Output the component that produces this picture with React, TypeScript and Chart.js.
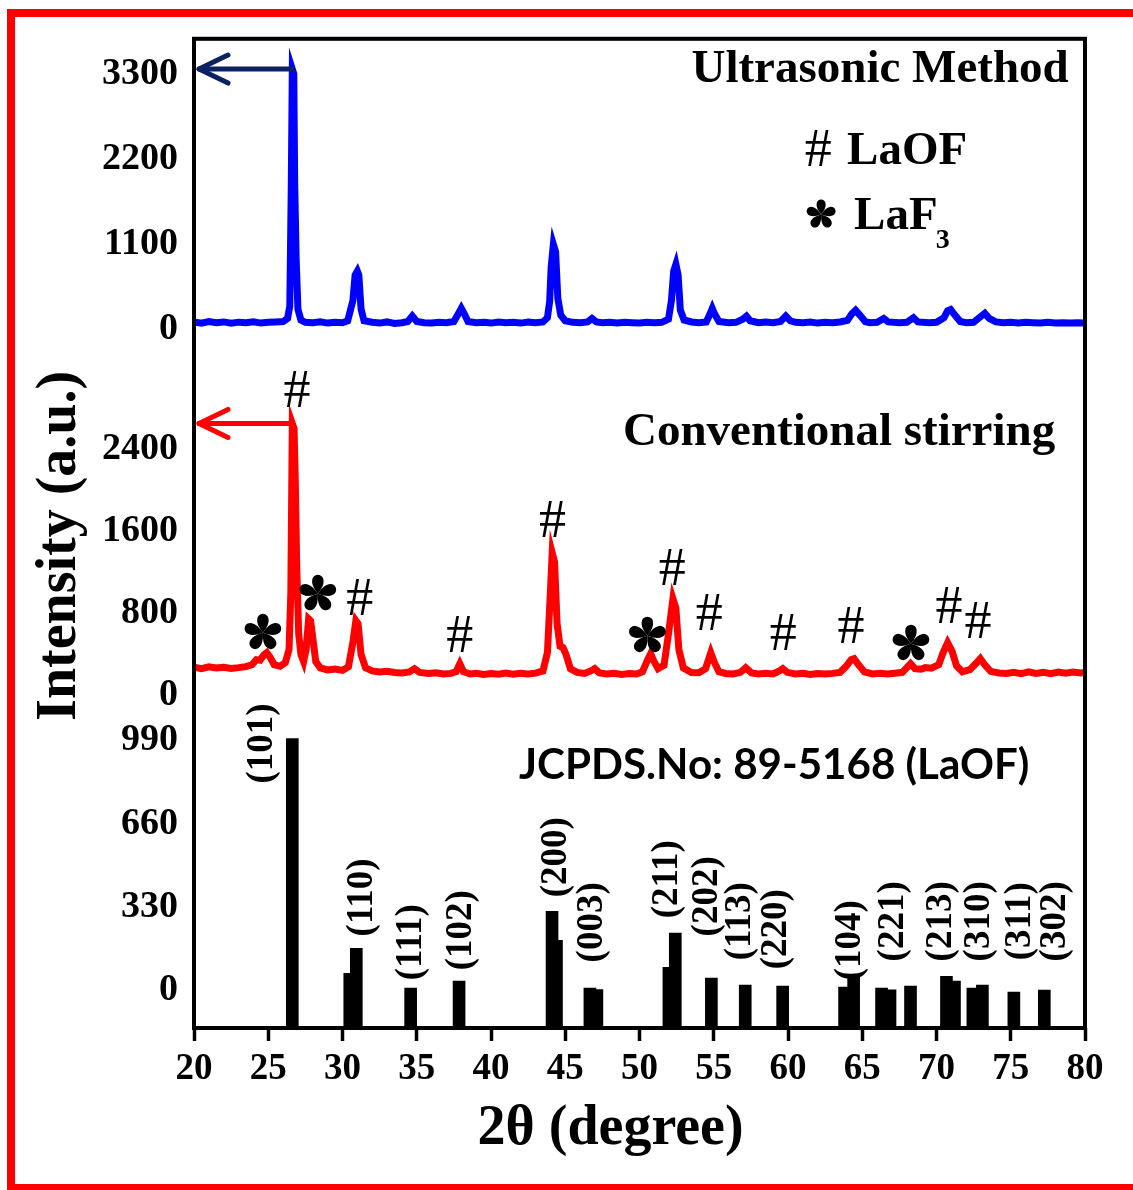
import React, { useEffect, useRef } from "react";
import { Chart, registerables } from "chart.js";

Chart.register(...registerables);

const SERIF = '"Liberation Serif", "Times New Roman", serif';
const SANS = 'Lato, "Open Sans", "Liberation Sans", sans-serif';

// ---------- axes ----------
const xMin = 20;
const xMax = 80;
const xStep = 5;
const xTitle = "2θ (degree)";
const yTitle = "Intensity (a.u.)";

const ultrasonicTicks = [0, 1100, 2200, 3300];
const stirringTicks = [0, 800, 1600, 2400];
const referenceTicks = [0, 330, 660, 990];

const ultrasonicRange = [-567, 3751];
const stirringRange = [-224, 3139];
const referenceRange = [-150, 1077];
const panelWeights = [335, 346, 310];

// ---------- series ----------
const ultrasonicPattern: [number, number][] = [
  [20.0, 95], [20.5, 80], [21.0, 100], [21.5, 85], [22.0, 95], [22.5, 78], [23.0, 92], [23.5, 84], [24.0, 96], [24.5, 80],
  [25.0, 90], [25.5, 95], [26.0, 100], [26.3, 140], [26.45, 300], [26.55, 1850], [26.62, 3360], [26.72, 3300], [26.78, 1900],
  [26.88, 900], [27.0, 260], [27.2, 120], [27.5, 90], [28.0, 85], [28.5, 96], [29.0, 80], [29.5, 92], [30.0, 85], [30.35, 110],
  [30.55, 260], [30.7, 370], [30.85, 700], [31.0, 750], [31.1, 700], [31.25, 260], [31.45, 110], [32.0, 90], [32.5, 80],
  [33.0, 95], [33.5, 75], [34.0, 85], [34.4, 100], [34.7, 170], [35.0, 100], [35.5, 85], [36.0, 80], [36.5, 92], [37.0, 85],
  [37.5, 100], [37.8, 200], [38.0, 270], [38.2, 200], [38.45, 100], [39.0, 85], [39.5, 92], [40.0, 80], [40.5, 95], [41.0, 85],
  [41.5, 90], [42.0, 80], [42.5, 95], [43.0, 85], [43.5, 95], [43.8, 150], [43.95, 360], [44.05, 800], [44.2, 1095],
  [44.35, 1000], [44.5, 400], [44.7, 180], [45.0, 110], [45.5, 90], [46.0, 85], [46.5, 95], [46.8, 140], [47.1, 95], [47.5, 85],
  [48.0, 90], [48.5, 80], [49.0, 90], [49.5, 85], [50.0, 80], [50.5, 90], [51.0, 85], [51.5, 90], [51.95, 130], [52.15, 370],
  [52.3, 750], [52.45, 840], [52.6, 700], [52.75, 250], [53.0, 120], [53.5, 95], [54.0, 85], [54.5, 95], [54.75, 200],
  [54.9, 270], [55.05, 200], [55.35, 100], [56.0, 85], [56.5, 90], [56.95, 130], [57.2, 170], [57.45, 110], [58.0, 85],
  [58.5, 95], [59.0, 85], [59.5, 100], [59.85, 170], [60.15, 110], [60.5, 90], [61.0, 85], [61.5, 95], [62.0, 80], [62.5, 90],
  [63.0, 85], [63.5, 95], [64.0, 115], [64.3, 200], [64.55, 245], [64.85, 180], [65.2, 100], [65.5, 85], [66.0, 90],
  [66.45, 140], [66.75, 95], [67.5, 85], [68.0, 90], [68.45, 150], [68.75, 95], [69.5, 85], [70.0, 90], [70.5, 150],
  [70.75, 240], [70.95, 255], [71.25, 180], [71.6, 100], [72.0, 85], [72.5, 90], [72.95, 160], [73.25, 205], [73.55, 140],
  [74.0, 95], [74.5, 85], [75.0, 90], [75.5, 80], [76.0, 90], [76.5, 85], [77.0, 80], [77.5, 90], [78.0, 80], [78.5, 85],
  [79.0, 80], [79.5, 85], [80.0, 80],
];

const stirringPattern: [number, number][] = [
  [20.0, 275], [20.5, 262], [21.0, 280], [21.5, 268], [22.0, 276], [22.5, 264], [23.0, 272], [23.5, 282], [23.9, 300],
  [24.2, 350], [24.45, 345], [24.7, 395], [24.9, 418], [25.1, 380], [25.4, 300], [25.8, 285], [26.15, 320], [26.4, 450],
  [26.52, 1000], [26.58, 2000], [26.62, 2650], [26.74, 2600], [26.82, 2100], [26.92, 1250], [27.05, 600], [27.2, 400],
  [27.38, 330], [27.55, 450], [27.72, 748], [27.85, 730], [28.0, 560], [28.2, 330], [28.5, 270], [29.0, 250], [29.5, 258],
  [30.0, 245], [30.4, 280], [30.7, 520], [30.9, 730], [31.05, 700], [31.25, 400], [31.55, 270], [32.0, 240], [32.5, 230],
  [33.0, 236], [33.5, 224], [34.0, 220], [34.5, 230], [34.85, 262], [35.2, 225], [35.8, 215], [36.3, 222], [36.8, 210],
  [37.3, 216], [37.65, 232], [37.9, 310], [38.15, 232], [38.6, 210], [39.0, 216], [39.5, 205], [40.0, 214], [40.5, 208],
  [41.0, 220], [41.5, 208], [42.0, 216], [42.5, 210], [43.0, 218], [43.5, 240], [43.8, 420], [43.98, 950], [44.12, 1390],
  [44.28, 1300], [44.45, 700], [44.65, 480], [44.85, 467], [45.05, 400], [45.35, 260], [45.8, 225], [46.3, 215], [46.75, 242],
  [46.98, 262], [47.3, 220], [47.8, 210], [48.3, 216], [48.8, 205], [49.3, 215], [49.8, 210], [50.2, 232], [50.55, 350],
  [50.75, 408], [50.95, 340], [51.25, 262], [51.65, 295], [51.95, 600], [52.25, 943], [52.45, 850], [52.65, 450], [52.95, 270],
  [53.5, 225], [54.0, 222], [54.45, 262], [54.8, 418], [55.05, 320], [55.35, 232], [55.8, 215], [56.3, 210], [56.8, 226],
  [57.15, 272], [57.55, 220], [58.0, 210], [58.5, 216], [59.0, 210], [59.45, 242], [59.65, 262], [59.95, 226], [60.5, 210],
  [61.0, 216], [61.5, 205], [62.0, 215], [62.5, 210], [63.0, 216], [63.5, 226], [63.9, 282], [64.25, 350], [64.45, 360],
  [64.75, 300], [65.15, 230], [65.7, 210], [66.2, 216], [66.7, 210], [67.2, 218], [67.7, 226], [68.0, 272], [68.25, 310],
  [68.55, 262], [68.95, 256], [69.25, 272], [69.65, 266], [70.15, 300], [70.45, 420], [70.75, 515], [71.05, 430], [71.35, 290],
  [71.75, 232], [72.25, 252], [72.65, 312], [72.95, 360], [73.25, 300], [73.65, 236], [74.2, 220], [74.7, 215], [75.2, 226],
  [75.7, 214], [76.2, 230], [76.7, 215], [77.2, 226], [77.7, 214], [78.2, 228], [78.7, 218], [79.2, 228], [79.7, 220],
  [80.0, 224],
];

// JCPDS 89-5168 reference lines
const refAngles = [26.62, 30.49, 30.93, 34.59, 37.85, 44.11, 44.41, 46.66, 47.13, 51.98, 52.41, 54.84, 57.12, 59.64,
  63.81, 64.42, 66.3, 66.87, 68.25, 70.67, 71.21, 72.45, 73.09, 75.21, 77.26];
const refIntensities = [998, 67, 166, 8, 36, 313, 198, 8, 2, 91, 226, 48, 20, 16,
  12, 52, 8, 1, 16, 55, 36, 8, 20, -8, 0];

// Miller-index labels (anchor: angle, height in reference units)
const millerLabels = ["(101)", "(110)", "(111)", "(102)", "(200)", "(003)", "(211)", "(202)", "(113)", "(220)",
  "(104)", "(221)", "(213)", "(310)", "(311)", "(302)"];
const millerAngles = [24.64, 31.37, 34.66, 38.02, 44.41, 46.83, 51.88, 54.57, 56.79, 59.21, 64.19, 67.08, 70.3, 72.86,
  75.68, 78.04];
const millerHeights = [978, 368, 190, 238, 527, 269, 440, 372, 273, 242, 198, 273, 273, 273, 273, 273];

// phase markers on the conventional-stirring pattern
const laofMarkAngles = [26.93, 31.16, 37.89, 44.14, 52.21, 54.7, 59.68, 64.25, 70.84, 72.79];
const laofMarkHeights = [2945, 923, 564, 1681, 1215, 777, 583, 651, 845, 700];
const laf3MarkAngles = [24.64, 28.34, 50.53, 68.28];
const laf3MarkHeights = [612, 991, 583, 505];

function drawFlower(ctx: CanvasRenderingContext2D, cx: number, cy: number, r: number) {
  ctx.save();
  ctx.translate(cx, cy);
  ctx.fillStyle = "#000";
  const w = 0.3 * r;
  const tipY = -r + w;
  for (let k = 0; k < 5; k++) {
    ctx.save();
    ctx.rotate((k * 2 * Math.PI) / 5);
    ctx.beginPath();
    ctx.moveTo(0, 0);
    ctx.quadraticCurveTo(-w * 1.15, tipY + w * 0.9, -w, tipY);
    ctx.arc(0, tipY, w, Math.PI, 0, false);
    ctx.quadraticCurveTo(w * 1.15, tipY + w * 0.9, 0, 0);
    ctx.fill();
    ctx.restore();
  }
  ctx.restore();
}

function drawArrow(ctx: CanvasRenderingContext2D, fromX: number, tipX: number, y: number, color: string) {
  ctx.save();
  ctx.strokeStyle = color;
  ctx.lineWidth = 5;
  ctx.lineCap = "round";
  ctx.lineJoin = "round";
  ctx.beginPath();
  ctx.moveTo(fromX, y);
  ctx.lineTo(tipX, y);
  ctx.stroke();
  ctx.beginPath();
  ctx.moveTo(tipX + 29, y - 14);
  ctx.lineTo(tipX, y);
  ctx.lineTo(tipX + 29, y + 14);
  ctx.stroke();
  ctx.restore();
}

function text(ctx: CanvasRenderingContext2D, s: string, x: number, y: number, font: string, align: CanvasTextAlign = "center") {
  ctx.save();
  ctx.font = font;
  ctx.fillStyle = "#000";
  ctx.textAlign = align;
  ctx.textBaseline = "middle";
  ctx.fillText(s, x, y);
  ctx.restore();
}

const decorPlugin = {
  id: "decor",
  beforeDraw(chart: any) {
    const ctx: CanvasRenderingContext2D = chart.ctx;
    ctx.save();
    ctx.fillStyle = "#fff";
    ctx.fillRect(0, 0, chart.width, chart.height);
    ctx.fillStyle = "#ff0000";
    ctx.fillRect(7, 9, chart.width - 7, 8);
    ctx.fillRect(7, 9, 8, chart.height - 9);
    ctx.fillRect(7, chart.height - 6, chart.width - 7, 6);
    ctx.restore();
  },
  afterDraw(chart: any) {
    const ctx: CanvasRenderingContext2D = chart.ctx;
    const { x, yU, yC, yR } = chart.scales;
    const ca = chart.chartArea;

    // frame
    ctx.save();
    ctx.strokeStyle = "#000";
    ctx.lineWidth = 4;
    ctx.strokeRect(ca.left, ca.top, ca.right - ca.left, ca.bottom - ca.top);
    ctx.restore();

    // x-axis title (centred a little left of the axis centre, as in the figure)
    text(ctx, xTitle, x.getPixelForValue(48.05), ca.bottom + 102, `bold 56px ${SERIF}`);

    // arrows pointing at the matching axis
    const uPeak = ultrasonicPattern.reduce((a, b) => (b[1] > a[1] ? b : a));
    const cPeak = stirringPattern.reduce((a, b) => (b[1] > a[1] ? b : a));
    drawArrow(ctx, x.getPixelForValue(uPeak[0]), ca.left + 5, yU.getPixelForValue(uPeak[1]), "#0c2161");
    drawArrow(ctx, x.getPixelForValue(cPeak[0]), ca.left + 5, yC.getPixelForValue(cPeak[1]), "#ff0000");

    // panel titles / legend
    const titleFont = `bold 47px ${SERIF}`;
    text(ctx, "Ultrasonic Method", x.getPixelForValue(66.2), yU.getPixelForValue(3351), titleFont);
    text(ctx, "#", x.getPixelForValue(62.03), yU.getPixelForValue(2294), `54px ${SERIF}`);
    text(ctx, "LaOF", x.getPixelForValue(63.98), yU.getPixelForValue(2294), titleFont, "left");
    drawFlower(ctx, x.getPixelForValue(62.23), yU.getPixelForValue(1482), 15);
    const lafX = x.getPixelForValue(64.45);
    const lafY = yU.getPixelForValue(1457);
    text(ctx, "LaF", lafX, lafY, titleFont, "left");
    ctx.save();
    ctx.font = titleFont;
    const lafW = ctx.measureText("LaF").width;
    ctx.restore();
    text(ctx, "3", lafX + lafW - 2, lafY + 24, `bold 28px ${SERIF}`, "left");

    text(ctx, "Conventional stirring", x.getPixelForValue(63.44), yC.getPixelForValue(2556), titleFont);

    // JCPDS caption (fit to width)
    ctx.save();
    const cap = "JCPDS.No: 89-5168 (LaOF)";
    ctx.font = `bold 40px ${SANS}`;
    const wCap = ctx.measureText(cap).width;
    const capSize = (40 * 510) / wCap;
    ctx.restore();
    text(ctx, cap, x.getPixelForValue(59.07), yR.getPixelForValue(891), `bold ${capSize.toFixed(1)}px ${SANS}`);

    // phase markers
    laofMarkAngles.forEach((a, i) => {
      text(ctx, "#", x.getPixelForValue(a), yC.getPixelForValue(laofMarkHeights[i]), `54px ${SERIF}`);
    });
    laf3MarkAngles.forEach((a, i) => {
      drawFlower(ctx, x.getPixelForValue(a), yC.getPixelForValue(laf3MarkHeights[i]), 19);
    });

    // Miller indices (rotated)
    millerLabels.forEach((lab, i) => {
      ctx.save();
      ctx.translate(x.getPixelForValue(millerAngles[i]), yR.getPixelForValue(millerHeights[i]));
      ctx.rotate(-Math.PI / 2);
      ctx.font = `bold 37px ${SERIF}`;
      ctx.fillStyle = "#000";
      ctx.textAlign = "center";
      ctx.textBaseline = "middle";
      ctx.fillText(lab, 0, 0);
      ctx.restore();
    });
  },
};

function yAxis(range: number[], ticks: number[], weight: number, stackWeight: number, title: boolean) {
  return {
    type: "linear" as const,
    position: "left" as const,
    stack: "panels",
    stackWeight,
    weight,
    min: range[0],
    max: range[1],
    grid: { display: false, drawTicks: false },
    border: { display: false },
    afterBuildTicks: (s: any) => {
      s.ticks = ticks.map((v) => ({ value: v }));
    },
    afterFit: (s: any) => {
      s.width = 194;
    },
    ticks: {
      autoSkip: false,
      padding: 16,
      color: "#000",
      font: { family: SERIF, size: 38, weight: "bold" as const },
      callback: (v: any) => String(v),
    },
    title: {
      display: title,
      text: yTitle,
      color: "#000",
      font: { family: SERIF, size: 56, weight: "bold" as const },
      padding: { top: 27, bottom: 0 },
    },
  };
}

export default function App() {
  const ref = useRef<HTMLCanvasElement>(null);
  useEffect(() => {
    document.body.style.margin = "0";
    const chart = new Chart(ref.current as HTMLCanvasElement, {
      type: "line",
      data: {
        datasets: [
          {
            type: "line",
            label: "Ultrasonic Method",
            data: ultrasonicPattern.map(([a, v]) => ({ x: a, y: v })),
            xAxisID: "x",
            yAxisID: "yU",
            borderColor: "#0000ff",
            borderWidth: 7,
            pointRadius: 0,
            tension: 0,
            fill: false,
          },
          {
            type: "line",
            label: "Conventional stirring",
            data: stirringPattern.map(([a, v]) => ({ x: a, y: v })),
            xAxisID: "x",
            yAxisID: "yC",
            borderColor: "#ff0000",
            borderWidth: 7,
            pointRadius: 0,
            tension: 0,
            fill: false,
          },
          {
            type: "bar",
            label: "JCPDS 89-5168",
            data: refAngles.map((a, i) => ({ x: a, y: refIntensities[i] })),
            xAxisID: "x",
            yAxisID: "yR",
            backgroundColor: "#000",
            borderWidth: 0,
            barThickness: 12,
            base: referenceRange[0],
          } as any,
        ],
      },
      options: {
        responsive: false,
        animation: false,
        devicePixelRatio: 1,
        layout: { padding: { left: 0, top: 37, right: 48, bottom: 0 } },
        plugins: { legend: { display: false }, tooltip: { enabled: false } },
        scales: {
          x: {
            type: "linear",
            position: "bottom",
            min: xMin,
            max: xMax,
            offset: false,
            grid: {
              display: true,
              offset: false,
              drawOnChartArea: false,
              drawTicks: true,
              tickLength: 13,
              tickWidth: 3.5,
              tickColor: "#000",
            },
            border: { display: false },
            afterFit: (s: any) => {
              s.height = 162;
            },
            ticks: {
              stepSize: xStep,
              autoSkip: false,
              maxRotation: 0,
              padding: 6,
              color: "#000",
              font: { family: SERIF, size: 37, weight: "bold" },
              callback: (v: any) => String(v),
            },
            title: { display: false },
          },
          yU: yAxis(ultrasonicRange, ultrasonicTicks, 3, panelWeights[0], false),
          yC: yAxis(stirringRange, stirringTicks, 2, panelWeights[1], true),
          yR: yAxis(referenceRange, referenceTicks, 1, panelWeights[2], false),
        } as any,
      },
      plugins: [decorPlugin],
    });
    return () => chart.destroy();
  }, []);
  return (
    <div style={{ width: 1133, height: 1190 }}>
      <canvas ref={ref} width={1133} height={1190} style={{ display: "block" }} />
    </div>
  );
}
